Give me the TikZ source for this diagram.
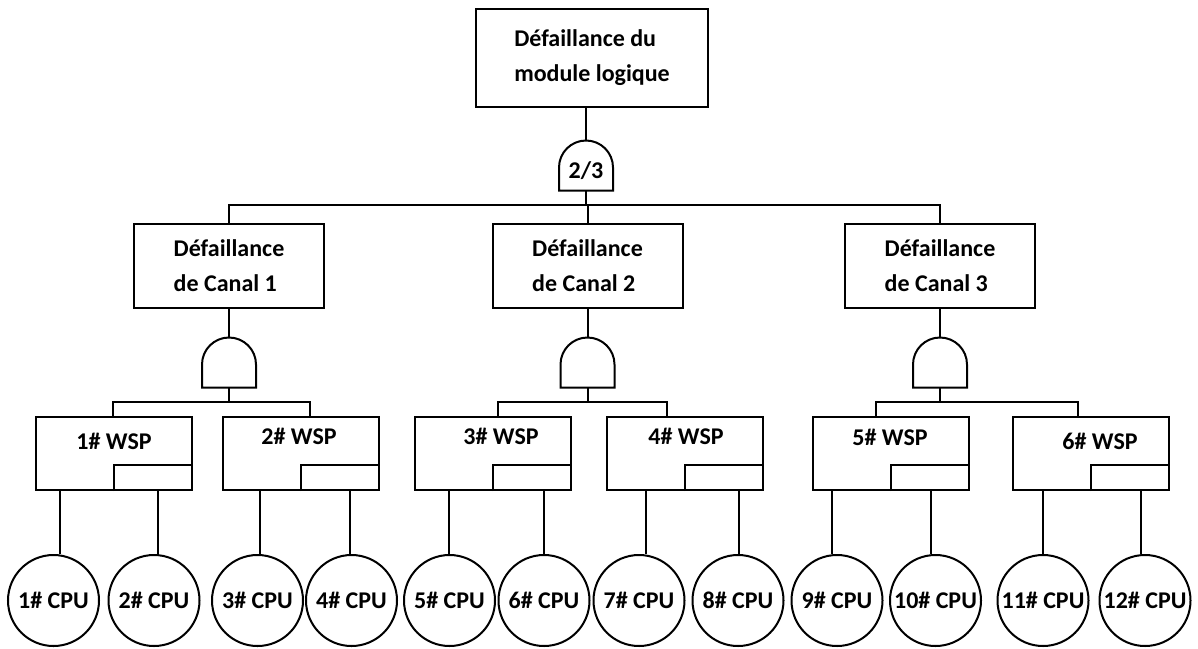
\documentclass[tikz,border=0pt]{standalone}
\usepackage{fontspec}
\setmainfont{Carlito}
\begin{document}
\begin{tikzpicture}[x=1pt, y=-1pt, line width=2pt,
  lbl/.style={font=\bfseries\fontsize{24}{35}\selectfont},
  evbox/.style={draw, lbl, inner sep=0pt, align=left},
  wspbox/.style={draw, minimum width=156pt, minimum height=73pt, inner sep=0pt},
  cpu/.style={draw, circle, minimum size=91pt, inner sep=0pt, lbl},
  gatebox/.style={minimum width=54pt, minimum height=50pt, inner sep=0pt, outer sep=0pt},
  andshape/.style={draw, line join=miter},
]
\useasboundingbox (0,0) rectangle (1198,648);
\fill[white] (0,0) rectangle (1198,648);

% top event and 2-out-of-3 gate
\node[evbox, minimum width=232pt, minimum height=98pt] (top) at (592,58)
  {Défaillance du\\module logique};
\node[gatebox, lbl, text height=27pt, text depth=2pt] (g0) at (586,165.5) {2/3};
\draw[andshape] (g0.south west) -- ([yshift=23pt]g0.south west)
  arc[start angle=180, end angle=0, radius=27pt] -- (g0.south east) -- cycle;
\draw (top.south -| g0.north) -- (g0.north);

% channel events
\node[evbox, minimum width=190pt, minimum height=84pt] (ch1) at (229,266) {Défaillance\\de Canal 1};
\node[evbox, minimum width=190pt, minimum height=84pt] (ch2) at (587.5,266) {Défaillance\\de Canal 2};
\node[evbox, minimum width=190pt, minimum height=84pt] (ch3) at (940,266) {Défaillance\\de Canal 3};

\coordinate (m0) at (586,205);
\draw (g0.south) -- (m0);
\draw (ch1.north) |- (m0) -| (ch3.north);
\draw (ch2.north) -- (ch2.north |- m0);

% AND gates under each channel
\foreach \i in {1,2,3}{
  \node[gatebox] (g\i) at (ch\i.center |- 0,362.5) {};
  \draw[andshape] (g\i.south west) -- ([yshift=23pt]g\i.south west)
    arc[start angle=180, end angle=0, radius=27pt] -- (g\i.south east) -- cycle;
  \draw (ch\i.south) -- (g\i.north);
}

% WSP boxes with their corner notch
\foreach \i/\x/\dx/\dy in {1/113.5/0.5/25, 2/300.5/-1.5/20, 3/493/8/20, 4/684.5/1.5/20, 5/891/-1/21, 6/1091/9/25}{
  \node[wspbox, label={[lbl, anchor=center, xshift=\dx pt, yshift=-\dy pt]north:\i\# WSP}] (w\i) at (\x,453.5) {};
  \draw (w\i.south) |- ([yshift=26pt]w\i.south east);
}

% buses from each AND gate to its two WSP boxes
\foreach \g/\a/\b/\la/\lb in {1/1/2/113/310, 2/3/4/498/667, 3/5/6/876/1078}{
  \coordinate (da\g) at (\la,402);
  \coordinate (db\g) at (\lb,402);
  \draw (w\a.north -| da\g) -- (da\g) -- (db\g) -- (w\b.north -| db\g);
  \draw (g\g.south) -- (g\g.south |- da\g);
}

% CPU basic events
\foreach \i/\x/\lx/\w in {1/53.5/60/1, 2/154/158/1, 3/257.5/260/2, 4/351.5/350/2,
    5/449.5/449/3, 6/544/544/3, 7/639/646/4, 8/738/739/4,
    9/837/832/5, 10/935.5/931/5, 11/1043/1043/6, 12/1145/1141/6}{
  \node[cpu] (p\i) at (\x,600.5) {\i\# CPU};
  \coordinate (t\i) at (\lx,0);
  \draw (w\w.south -| t\i) -- (p\i.north -| t\i);
}
\end{tikzpicture}
\end{document}
